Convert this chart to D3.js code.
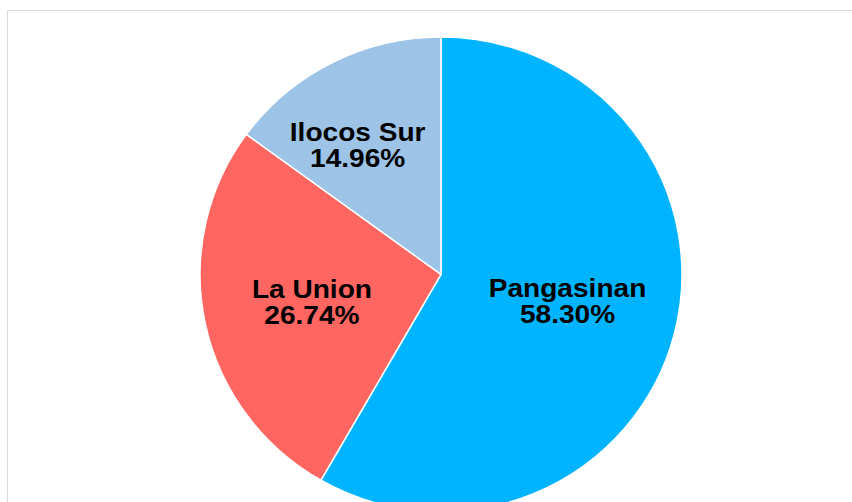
<!DOCTYPE html>
<html>
<head>
<meta charset="utf-8">
<script src="https://cdn.jsdelivr.net/npm/d3@7"></script>
<style>
  html, body { margin: 0; padding: 0; background: #ffffff; }
  svg { display: block; }
</style>
</head>
<body>
<div id="chart"></div>
<script>
// ---- data ----
const categories = ["Pangasinan", "La Union", "Ilocos Sur"];
const shares = [58.30, 26.74, 14.96];
const colors = ["#00B4FF", "#FF6661", "#9DC3E6"];

// ---- layout ----
const W = 852, H = 502;
const cx = 441, cy = 274.4;
const ry = 237.4, rx = 241;
const labelR = 130;
const labelNudge = [[-1, -7], [0, 0.6], [-23.6, -13.8]];

const svg = d3.select("#chart").append("svg")
  .attr("width", W).attr("height", H);

svg.append("rect")
  .attr("x", 7.5).attr("y", 10.5)
  .attr("width", 1000).attr("height", 700)
  .attr("fill", "#ffffff")
  .attr("stroke", "#d9d9d9").attr("stroke-width", 1);

const data = categories.map((c, i) => ({ name: c, value: shares[i], color: colors[i] }));

const pie = d3.pie().sort(null).value(d => d.value).startAngle(0).endAngle(2 * Math.PI);
const arcs = pie(data);

const arc = d3.arc().innerRadius(0).outerRadius(ry);
const labelArc = d3.arc().innerRadius(labelR).outerRadius(labelR);

const g = svg.append("g")
  .attr("transform", `translate(${cx},${cy}) scale(${rx / ry},1)`);

g.selectAll("path.slice")
  .data(arcs)
  .enter().append("path")
  .attr("class", "slice")
  .attr("d", arc)
  .attr("fill", d => d.data.color)
  .attr("stroke", "#ffffff")
  .attr("stroke-width", 1.5)
  .attr("stroke-linejoin", "round");

const fmt = v => v.toFixed(2) + "%";

const labels = svg.append("g")
  .attr("transform", `translate(${cx},${cy})`);

arcs.forEach((d, i) => {
  const c = labelArc.centroid(d);
  const x = c[0] * (rx / ry) + labelNudge[i][0];
  const y = c[1] + labelNudge[i][1];
  const t = labels.append("text")
    .attr("transform", `translate(${x},${y}) scale(1.08,1)`)
    .attr("text-anchor", "middle")
    .attr("font-family", "'Liberation Sans', Arial, Helvetica, sans-serif")
    .attr("font-weight", "bold")
    .attr("font-size", 26)
    .attr("fill", "#000000");
  t.append("tspan").attr("x", 0).attr("y", -3.7).text(d.data.name);
  t.append("tspan").attr("x", 0).attr("y", 22.3).text(fmt(d.data.value));
});
</script>
</body>
</html>
